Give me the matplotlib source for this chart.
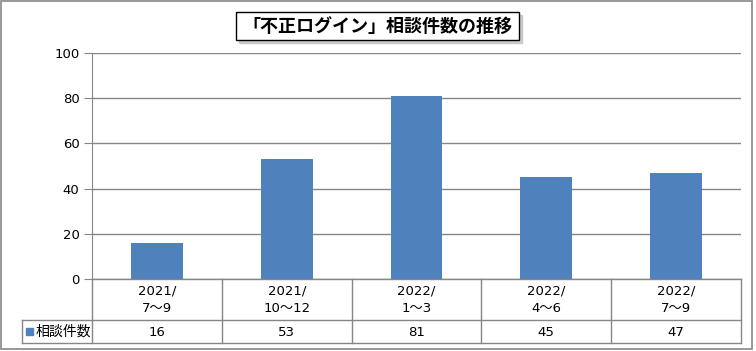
import matplotlib.pyplot as plt
from matplotlib.patches import Rectangle

plt.rcParams['font.family'] = ['DejaVu Sans', 'Noto Sans CJK JP']
jp = ['Noto Sans CJK JP', 'DejaVu Sans']

title = "「不正ログイン」相談件数の推移"
series_name = "相談件数"
years = ["2021/", "2021/", "2022/", "2022/", "2022/"]
months = ["7～9", "10～12", "1～3", "4～6", "7～9"]
counts = [16, 53, 81, 45, 47]

W, H = 756, 351
bar_color = "#4f81bd"
line_gray = "#868686"

fig = plt.figure(figsize=(W / 100, H / 100), dpi=100)

# pixel geometry of the plot area
x0, x1 = 92, 741
y_top, y_zero = 53, 279
row1, row2 = 320, 343
leg_x = 22

ax = fig.add_axes([x0 / W, 1 - y_zero / H, (x1 - x0) / W, (y_zero - y_top) / H])
n = len(counts)
ax.bar(range(n), counts, width=0.4, color=bar_color, zorder=3)
ax.set_xlim(-0.5, n - 0.5)
ax.set_ylim(0, 100)
ax.set_yticks(range(0, 101, 20))
ax.yaxis.grid(True, color=line_gray, linewidth=1)
ax.set_axisbelow(True)
for s in ["top", "right", "bottom"]:
    ax.spines[s].set_visible(False)
ax.spines["left"].set_color(line_gray)
ax.tick_params(axis="y", length=6, color=line_gray, labelsize=9.5, pad=3)
ax.tick_params(axis="x", length=0, labelbottom=False)

# overlay in pixel coordinates for table, border and title
ov = fig.add_axes([0, 0, 1, 1], zorder=5)
ov.set_xlim(0, W)
ov.set_ylim(H, 0)
ov.axis("off")

ov.add_patch(Rectangle((0.5, 0.5), 751, 348, fill=False, edgecolor=line_gray, linewidth=1.2))

cw = (x1 - x0) / n
ov.plot([x0, x1], [y_zero, y_zero], color=line_gray, lw=1)
ov.plot([leg_x, x1], [row1, row1], color=line_gray, lw=1)
ov.plot([leg_x, x1], [row2, row2], color=line_gray, lw=1)
ov.plot([leg_x, leg_x], [row1, row2], color=line_gray, lw=1)
for k in range(n + 1):
    ov.plot([x0 + k * cw] * 2, [y_zero, row2], color=line_gray, lw=1)

for i in range(n):
    cx = x0 + (i + 0.5) * cw
    ov.text(cx, 291, years[i], ha="center", va="center", fontsize=9.5)
    ov.text(cx, 309, months[i], ha="center", va="center", fontsize=9.5)
    ov.text(cx, 332, str(counts[i]), ha="center", va="center", fontsize=9.5)

ov.add_patch(Rectangle((26, 328), 7, 7, color=bar_color))
ov.text(36, 332, series_name, ha="left", va="center", fontsize=10, family=jp)

# title box with shadow
ov.add_patch(Rectangle((239, 15), 283, 28, color="#b0b0b0", alpha=0.6))
ov.add_patch(Rectangle((236, 12), 283, 28, facecolor="white", edgecolor="black", lw=1))
ov.text(377.5, 26.5, title, ha="center", va="center", fontsize=13, fontweight="bold", family=jp)

fig.savefig("out.png", dpi=100)
